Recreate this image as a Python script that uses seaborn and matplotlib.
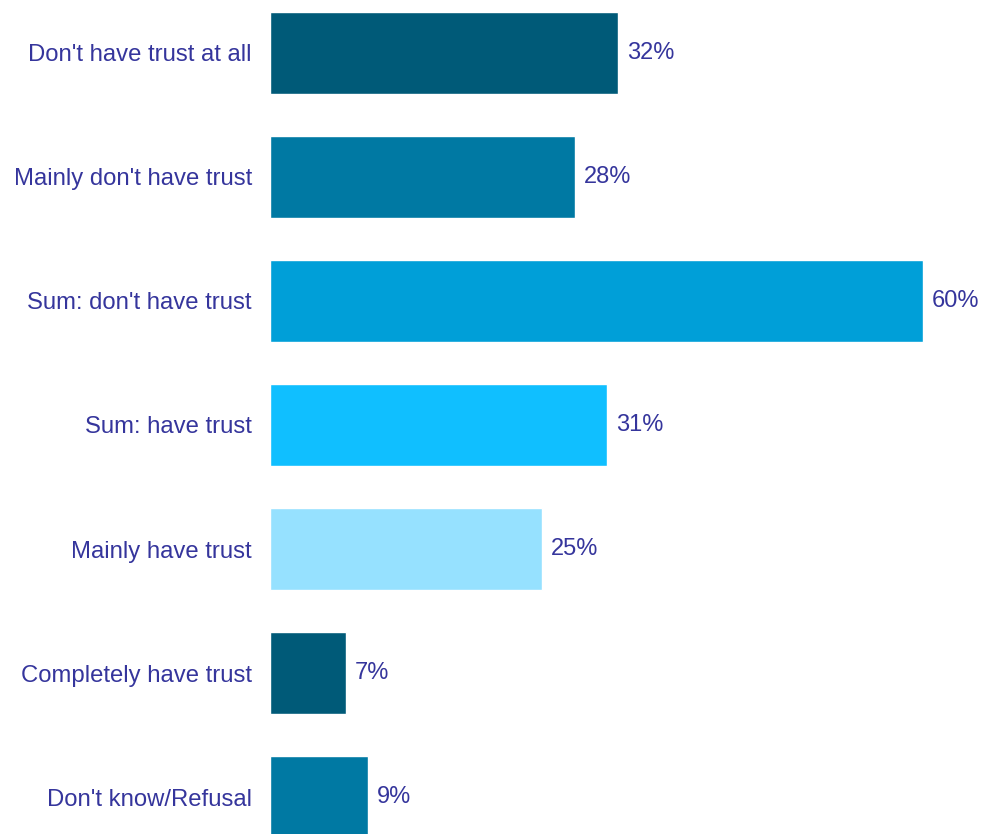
import matplotlib
matplotlib.use("Agg")
import matplotlib.pyplot as plt
import seaborn as sns
import pandas as pd

categories = [
    "Don't have trust at all",
    "Mainly don't have trust",
    "Sum: don't have trust",
    "Sum: have trust",
    "Mainly have trust",
    "Completely have trust",
    "Don't know/Refusal",
]
values = [32, 28, 60, 31, 25, 7, 9]
colors = ["#005A78", "#0079A3", "#009FD8", "#10BFFF", "#96E1FF", "#005A78", "#0079A3"]
text_color = "#35359C"

sns.set_theme(style="white")
plt.rcParams["font.family"] = ["Liberation Sans", "DejaVu Sans"]

df = pd.DataFrame({"category": categories, "value": values})

fig = plt.figure(figsize=(9.85, 8.34), dpi=100)
ax = fig.add_axes([270 / 985, 0, 1 - 270 / 985, 1])

sns.barplot(data=df, x="value", y="category", hue="category",
            palette=colors, order=categories, hue_order=categories,
            width=0.66, legend=False, ax=ax, saturation=1)

for i, v in enumerate(values):
    ax.text(v + 0.8, i, f"{v}%", va="center", ha="left",
            fontsize=17, color=text_color)

ax.set_xlim(0, 65.7)
ax.set_ylim(6.298, -0.427)
ax.set_xlabel("")
ax.set_ylabel("")
ax.set_xticks([])
ax.tick_params(axis="y", length=0, pad=13, labelsize=17.2, labelcolor=text_color)
for s in ax.spines.values():
    s.set_visible(False)

fig.savefig("out.png", dpi=100)
